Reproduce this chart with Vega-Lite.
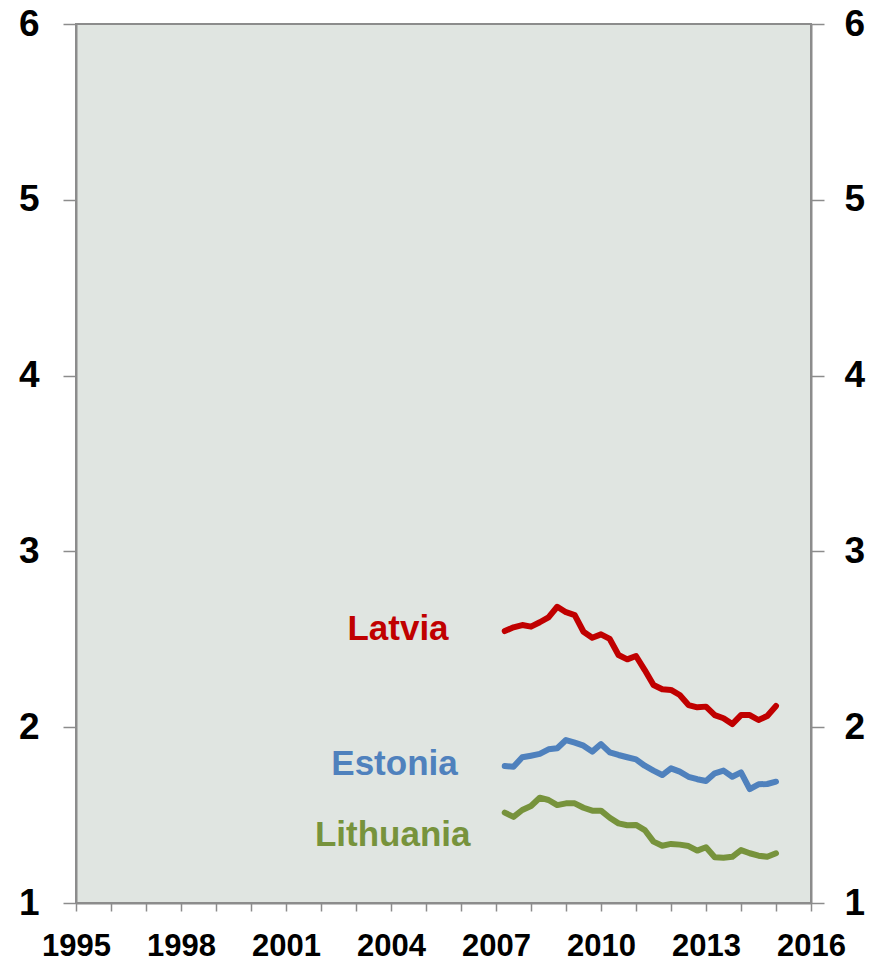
{
  "$schema": "https://vega.github.io/schema/vega-lite/v6.json",
  "width": 735,
  "height": 879,
  "autosize": {"type": "none"},
  "padding": {"left": 76, "top": 24, "right": 70, "bottom": 60},
  "background": "white",
  "config": {
    "view": {"fill": "#E0E5E1", "stroke": "#8c8c8c", "strokeWidth": 2},
    "axis": {"grid": false, "labelFont": "Liberation Sans", "labelFontWeight": "bold", "labelColor": "#000000", "domainColor": "#8c8c8c", "domainWidth": 2, "tickColor": "#8c8c8c", "tickWidth": 1.5, "title": null, "labelOverlap": false, "labelFlush": false, "labelBound": false},
    "axisX": {"labelOverlap": false, "labelFontSize": 31, "labelPadding": 20, "tickSize": 8},
    "axisY": {"labelFontSize": 37, "tickSize": 13}
  },
  "datasets": {
    "series": [
      {"country": "Latvia", "t": 2007.25, "v": 2.547},
      {"country": "Latvia", "t": 2007.5, "v": 2.568},
      {"country": "Latvia", "t": 2007.75, "v": 2.581},
      {"country": "Latvia", "t": 2008.0, "v": 2.572},
      {"country": "Latvia", "t": 2008.25, "v": 2.597},
      {"country": "Latvia", "t": 2008.5, "v": 2.625},
      {"country": "Latvia", "t": 2008.75, "v": 2.685},
      {"country": "Latvia", "t": 2009.0, "v": 2.654},
      {"country": "Latvia", "t": 2009.25, "v": 2.638},
      {"country": "Latvia", "t": 2009.5, "v": 2.543},
      {"country": "Latvia", "t": 2009.75, "v": 2.509},
      {"country": "Latvia", "t": 2010.0, "v": 2.528},
      {"country": "Latvia", "t": 2010.25, "v": 2.502},
      {"country": "Latvia", "t": 2010.5, "v": 2.411},
      {"country": "Latvia", "t": 2010.75, "v": 2.386},
      {"country": "Latvia", "t": 2011.0, "v": 2.405},
      {"country": "Latvia", "t": 2011.25, "v": 2.325},
      {"country": "Latvia", "t": 2011.5, "v": 2.24},
      {"country": "Latvia", "t": 2011.75, "v": 2.216},
      {"country": "Latvia", "t": 2012.0, "v": 2.212},
      {"country": "Latvia", "t": 2012.25, "v": 2.183},
      {"country": "Latvia", "t": 2012.5, "v": 2.126},
      {"country": "Latvia", "t": 2012.75, "v": 2.113},
      {"country": "Latvia", "t": 2013.0, "v": 2.117},
      {"country": "Latvia", "t": 2013.25, "v": 2.069},
      {"country": "Latvia", "t": 2013.5, "v": 2.051},
      {"country": "Latvia", "t": 2013.75, "v": 2.018},
      {"country": "Latvia", "t": 2014.0, "v": 2.069},
      {"country": "Latvia", "t": 2014.25, "v": 2.069},
      {"country": "Latvia", "t": 2014.5, "v": 2.041},
      {"country": "Latvia", "t": 2014.75, "v": 2.064},
      {"country": "Latvia", "t": 2015.0, "v": 2.121},
      {"country": "Estonia", "t": 2007.25, "v": 1.779},
      {"country": "Estonia", "t": 2007.5, "v": 1.775},
      {"country": "Estonia", "t": 2007.75, "v": 1.829},
      {"country": "Estonia", "t": 2008.0, "v": 1.838},
      {"country": "Estonia", "t": 2008.25, "v": 1.848},
      {"country": "Estonia", "t": 2008.5, "v": 1.874},
      {"country": "Estonia", "t": 2008.75, "v": 1.88},
      {"country": "Estonia", "t": 2009.0, "v": 1.927},
      {"country": "Estonia", "t": 2009.25, "v": 1.912},
      {"country": "Estonia", "t": 2009.5, "v": 1.895},
      {"country": "Estonia", "t": 2009.75, "v": 1.861},
      {"country": "Estonia", "t": 2010.0, "v": 1.904},
      {"country": "Estonia", "t": 2010.25, "v": 1.857},
      {"country": "Estonia", "t": 2010.5, "v": 1.842},
      {"country": "Estonia", "t": 2010.75, "v": 1.829},
      {"country": "Estonia", "t": 2011.0, "v": 1.817},
      {"country": "Estonia", "t": 2011.25, "v": 1.781},
      {"country": "Estonia", "t": 2011.5, "v": 1.753},
      {"country": "Estonia", "t": 2011.75, "v": 1.728},
      {"country": "Estonia", "t": 2012.0, "v": 1.766},
      {"country": "Estonia", "t": 2012.25, "v": 1.747},
      {"country": "Estonia", "t": 2012.5, "v": 1.718},
      {"country": "Estonia", "t": 2012.75, "v": 1.704},
      {"country": "Estonia", "t": 2013.0, "v": 1.694},
      {"country": "Estonia", "t": 2013.25, "v": 1.738},
      {"country": "Estonia", "t": 2013.5, "v": 1.753},
      {"country": "Estonia", "t": 2013.75, "v": 1.718},
      {"country": "Estonia", "t": 2014.0, "v": 1.743},
      {"country": "Estonia", "t": 2014.25, "v": 1.648},
      {"country": "Estonia", "t": 2014.5, "v": 1.675},
      {"country": "Estonia", "t": 2014.75, "v": 1.677},
      {"country": "Estonia", "t": 2015.0, "v": 1.69},
      {"country": "Lithuania", "t": 2007.25, "v": 1.514},
      {"country": "Lithuania", "t": 2007.5, "v": 1.49},
      {"country": "Lithuania", "t": 2007.75, "v": 1.529},
      {"country": "Lithuania", "t": 2008.0, "v": 1.552},
      {"country": "Lithuania", "t": 2008.25, "v": 1.599},
      {"country": "Lithuania", "t": 2008.5, "v": 1.586},
      {"country": "Lithuania", "t": 2008.75, "v": 1.557},
      {"country": "Lithuania", "t": 2009.0, "v": 1.567},
      {"country": "Lithuania", "t": 2009.25, "v": 1.567},
      {"country": "Lithuania", "t": 2009.5, "v": 1.542},
      {"country": "Lithuania", "t": 2009.75, "v": 1.525},
      {"country": "Lithuania", "t": 2010.0, "v": 1.525},
      {"country": "Lithuania", "t": 2010.25, "v": 1.485},
      {"country": "Lithuania", "t": 2010.5, "v": 1.453},
      {"country": "Lithuania", "t": 2010.75, "v": 1.442},
      {"country": "Lithuania", "t": 2011.0, "v": 1.444},
      {"country": "Lithuania", "t": 2011.25, "v": 1.415},
      {"country": "Lithuania", "t": 2011.5, "v": 1.349},
      {"country": "Lithuania", "t": 2011.75, "v": 1.326},
      {"country": "Lithuania", "t": 2012.0, "v": 1.336},
      {"country": "Lithuania", "t": 2012.25, "v": 1.332},
      {"country": "Lithuania", "t": 2012.5, "v": 1.324},
      {"country": "Lithuania", "t": 2012.75, "v": 1.298},
      {"country": "Lithuania", "t": 2013.0, "v": 1.317},
      {"country": "Lithuania", "t": 2013.25, "v": 1.26},
      {"country": "Lithuania", "t": 2013.5, "v": 1.258},
      {"country": "Lithuania", "t": 2013.75, "v": 1.263},
      {"country": "Lithuania", "t": 2014.0, "v": 1.301},
      {"country": "Lithuania", "t": 2014.25, "v": 1.283},
      {"country": "Lithuania", "t": 2014.5, "v": 1.269},
      {"country": "Lithuania", "t": 2014.75, "v": 1.263},
      {"country": "Lithuania", "t": 2015.0, "v": 1.283}
    ],
    "labels": [
      {"country": "Latvia", "t": 2004.2, "v": 2.559},
      {"country": "Estonia", "t": 2004.1, "v": 1.791},
      {"country": "Lithuania", "t": 2004.05, "v": 1.387}
    ]
  },
  "layer": [
    {
      "data": {"name": "series"},
      "mark": {"type": "line", "strokeWidth": 6, "strokeCap": "round", "strokeJoin": "round"},
      "encoding": {
        "x": {
          "field": "t", "type": "quantitative",
          "scale": {"domain": [1995, 2016], "nice": false, "zero": false},
          "axis": {
            "orient": "bottom",
            "values": [1995,1996,1997,1998,1999,2000,2001,2002,2003,2004,2005,2006,2007,2008,2009,2010,2011,2012,2013,2014,2015,2016],
            "labelExpr": "(datum.value - 1995) % 3 == 0 ? '' + datum.value : ''",
            "labelOverlap": false
          }
        },
        "y": {
          "field": "v", "type": "quantitative",
          "scale": {"domain": [1, 6], "nice": false, "zero": false},
          "axis": {
            "orient": "left", "values": [1,2,3,4,5,6], "format": "d",
            "labelPadding": 24
          }
        },
        "color": {
          "field": "country", "type": "nominal",
          "scale": {"domain": ["Latvia", "Estonia", "Lithuania"], "range": ["#C00000", "#4F81BD", "#77933C"]},
          "legend": null
        },
        "detail": {"field": "country"}
      }
    },
    {
      "data": {"name": "labels"},
      "mark": {"type": "text", "font": "Liberation Sans", "fontWeight": "bold", "fontSize": 35, "align": "center", "baseline": "middle"},
      "encoding": {
        "x": {
          "field": "t", "type": "quantitative",
          "axis": {
            "orient": "bottom",
            "values": [1995,1996,1997,1998,1999,2000,2001,2002,2003,2004,2005,2006,2007,2008,2009,2010,2011,2012,2013,2014,2015,2016],
            "labelExpr": "(datum.value - 1995) % 3 == 0 ? '' + datum.value : ''",
            "labelOverlap": false
          }
        },
        "y": {
          "field": "v", "type": "quantitative",
          "axis": {
            "orient": "right", "values": [1,2,3,4,5,6], "format": "d",
            "labelPadding": 20
          }
        },
        "text": {"field": "country"},
        "color": {"field": "country", "type": "nominal", "legend": null}
      }
    }
  ],
  "resolve": {"axis": {"y": "independent"}}
}
